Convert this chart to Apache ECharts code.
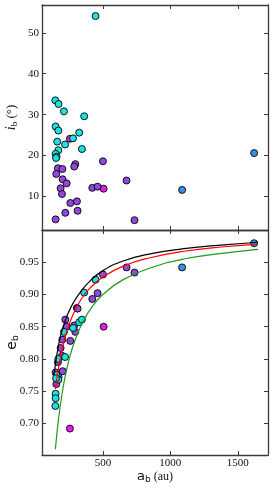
<!DOCTYPE html>
<html>
<head>
<meta charset="utf-8">
<script src="https://cdn.jsdelivr.net/npm/echarts@6/dist/echarts.min.js"></script>
<style>
html,body{margin:0;padding:0;background:#fff;}
#chart{width:274px;height:488px;}
</style>
</head>
<body>
<div id="chart"></div>
<script>
// ---- data ----
// cyan group
const cyanA = [445, 147, 171, 211, 361, 149, 169, 324, 161, 278, 219, 344, 169, 149, 156, 152];
const cyanI = [54.1, 33.5, 32.6, 30.8, 29.6, 27.1, 26.1, 25.6, 23.4, 24.2, 22.7, 21.6, 21.3, 20.4, 19.7, 19.4];
const cyanE = [0.923, 0.727, 0.772, 0.842, 0.903, 0.746, 0.800, 0.857, 0.770, 0.848, 0.803, 0.861, 0.768, 0.739, 0.775, 0.770];
// purple group
const purpleA = [166, 199, 154, 295, 287, 500, 201, 231, 186, 196, 421, 460, 675, 258, 307, 221, 312, 149, 734];
const purpleI = [16.9, 16.7, 15.5, 17.9, 17.3, 18.6, 14.2, 13.2, 12.0, 10.6, 12.1, 12.4, 13.9, 8.4, 8.8, 6.0, 6.5, 4.4, 4.2];
const purpleE = [0.795, 0.830, 0.761, 0.842, 0.852, 0.931, 0.781, 0.850, 0.817, 0.805, 0.893, 0.902, 0.942, 0.828, 0.879, 0.861, 0.878, 0.779, 0.934];
// magenta group
const magentaA = [255, 505];
const magentaI = [24.1, 11.9];
const magentaE = [0.692, 0.850];
// blue group
const blueA = [1621, 1087];
const blueI = [20.6, 11.6];
const blueE = [0.9795, 0.942];
// curves
const blackCurveA = [138, 150, 165, 185, 210, 240, 280, 330, 400, 500, 650, 850, 1100, 1400, 1650];
const blackCurveE = [0.775, 0.795, 0.815, 0.835, 0.853, 0.870, 0.887, 0.903, 0.920, 0.937, 0.952, 0.963, 0.971, 0.977, 0.981];
const redCurveA = [148, 160, 175, 195, 220, 250, 290, 340, 400, 500, 650, 850, 1100, 1400, 1650];
const redCurveE = [0.753, 0.772, 0.791, 0.813, 0.834, 0.854, 0.874, 0.893, 0.909, 0.927, 0.944, 0.957, 0.967, 0.974, 0.978];
const greenCurveA = [147, 155, 165, 180, 200, 225, 260, 300, 350, 420, 500, 650, 850, 1100, 1400, 1650];
const greenCurveE = [0.660, 0.677, 0.697, 0.722, 0.750, 0.778, 0.808, 0.833, 0.857, 0.881, 0.900, 0.923, 0.941, 0.955, 0.964, 0.970];
// ticks
const xTicks = [500, 1000, 1500];
const iTicks = [10, 20, 30, 40, 50];
const eTicks = [0.70, 0.75, 0.80, 0.85, 0.90, 0.95];

// ---- helpers ----
const zip = (a, b) => a.map((v, k) => [v, b[k]]);
const FONT = '"Liberation Serif", "DejaVu Serif", serif';
const AX = '#3a3a3a';
const X_MIN = 48, X_MAX = 1724;
const I_MIN = 1.8, I_MAX = 56.8;
const E_MIN = 0.651, E_MAX = 1.0;

function xAx(grid, pos, labels, name) {
  return {
    type: 'value', gridIndex: grid, position: pos, min: X_MIN, max: X_MAX,
    splitLine: {show: false},
    axisLine: {show: true, onZero: false, lineStyle: {color: AX, width: 1.3}},
    axisTick: {show: true, inside: true, length: 4, customValues: xTicks, lineStyle: {color: AX, width: 1}},
    axisLabel: {show: labels, customValues: xTicks, margin: 3, fontFamily: FONT, fontSize: 11, color: '#111', formatter: v => String(v)},
    name: name || '', nameLocation: 'middle', nameGap: 14, nameMoveOverlap: false,
    nameTextStyle: {
      rich: {
        m: {fontFamily: '"DejaVu Sans", sans-serif', fontSize: 13, color: '#111'},
        s: {fontFamily: '"DejaVu Sans", sans-serif', fontSize: 9, color: '#111', verticalAlign: 'bottom', padding: [6, 0, 0, 0]},
        t: {fontFamily: FONT, fontSize: 12, color: '#111'}
      }
    }
  };
}
function yAx(grid, pos, labels, min, max, ticks, fmt, name, gap, rich) {
  return {
    type: 'value', gridIndex: grid, position: pos, min: min, max: max,
    splitLine: {show: false},
    axisLine: {show: true, onZero: false, lineStyle: {color: AX, width: 1.3}},
    axisTick: {show: true, inside: true, length: 4, customValues: ticks, lineStyle: {color: AX, width: 1}},
    axisLabel: {show: labels, customValues: ticks, margin: 3, fontFamily: FONT, fontSize: 11, color: '#111', formatter: fmt},
    name: name || '', nameLocation: 'middle', nameGap: gap || 20, nameRotate: 90, nameMoveOverlap: false,
    nameTextStyle: {rich: rich || {}}
  };
}

const dot = (name, color, xi, yi, data) => ({
  name, type: 'scatter', xAxisIndex: xi, yAxisIndex: yi, data,
  symbol: 'circle', symbolSize: 7, z: 3,
  itemStyle: {color: color, borderColor: '#000', borderWidth: 0.9, opacity: 1},
  emphasis: {disabled: true}
});
const curve = (color, a, e) => ({
  type: 'line', xAxisIndex: 1, yAxisIndex: 1, data: zip(a, e), smooth: true,
  showSymbol: false, symbol: 'none', z: 4,
  lineStyle: {color: color, width: 1.2}, emphasis: {disabled: true}
});

const C_CYAN = '#17e3e3', C_PURPLE = '#9347e0', C_MAG = '#e81ce8', C_BLUE = '#3d8fe3';

const option = {
  animation: false,
  backgroundColor: '#fff',
  grid: [
    {left: 42, top: 5, width: 226, height: 225, containLabel: false, outerBoundsMode: 'none'},
    {left: 42, top: 230, width: 226, height: 225, containLabel: false, outerBoundsMode: 'none'}
  ],
  xAxis: [
    xAx(0, 'bottom', false),
    xAx(1, 'bottom', true, '{m|a}{s|b}{t| (au)}'),
    xAx(0, 'top', false),
    xAx(1, 'top', false)
  ],
  yAxis: [
    yAx(0, 'left', true, I_MIN, I_MAX, iTicks, v => String(v), '{m|i}{s|b}{t| (°)}', 23, {
      m: {fontFamily: FONT, fontStyle: 'italic', fontSize: 14, color: '#111'},
      s: {fontFamily: FONT, fontSize: 9, color: '#111', verticalAlign: 'bottom', padding: [6, 0, 0, 0]},
      t: {fontFamily: FONT, fontSize: 13, color: '#111'}
    }),
    yAx(1, 'left', true, E_MIN, E_MAX, eTicks, v => v.toFixed(2), '{m|e}{s|b}', 22, {
      m: {fontFamily: '"DejaVu Sans", sans-serif', fontSize: 14, color: '#111'},
      s: {fontFamily: '"DejaVu Sans", sans-serif', fontSize: 9, color: '#111', verticalAlign: 'bottom', padding: [6, 0, 0, 0]}
    }),
    yAx(0, 'right', false, I_MIN, I_MAX, iTicks, null),
    yAx(1, 'right', false, E_MIN, E_MAX, eTicks, null)
  ],
  series: [
    dot('blue', C_BLUE, 0, 0, zip(blueA, blueI)),
    dot('magenta', C_MAG, 0, 0, zip(magentaA, magentaI)),
    dot('purple', C_PURPLE, 0, 0, zip(purpleA, purpleI)),
    dot('cyan', C_CYAN, 0, 0, zip(cyanA, cyanI)),
    dot('blue', C_BLUE, 1, 1, zip(blueA, blueE)),
    dot('magenta', C_MAG, 1, 1, zip(magentaA, magentaE)),
    dot('purple', C_PURPLE, 1, 1, zip(purpleA, purpleE)),
    dot('cyan', C_CYAN, 1, 1, zip(cyanA, cyanE)),
    curve('#000000', blackCurveA, blackCurveE),
    curve('#ff0000', redCurveA, redCurveE),
    curve('#1f9a1f', greenCurveA, greenCurveE)
  ]
};
const chart = echarts.init(document.getElementById('chart'), null, {renderer: 'canvas'});
chart.setOption(option);
</script>
</body>
</html>
